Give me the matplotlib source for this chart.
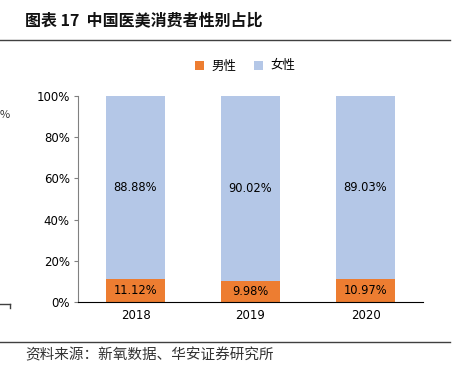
import matplotlib.pyplot as plt
from matplotlib.ticker import PercentFormatter

plt.rcParams['font.family'] = ['Noto Sans CJK SC', 'DejaVu Sans']

years = ['2018', '2019', '2020']
male = [11.12, 9.98, 10.97]
female = [88.88, 90.02, 89.03]

c_male = '#ED7D31'
c_female = '#B4C7E7'

fig = plt.figure(figsize=(4.55, 3.72), dpi=100)
W, H = 455, 372

# header / footer
fig.text(25 / W, 1 - 20 / H, '图表 17  中国医美消费者性别占比', fontsize=11.5,
         fontweight='bold', va='center', ha='left', color='#111111')
fig.add_artist(plt.Line2D([0, 450 / W], [1 - 40 / H] * 2, color='#404040', lw=1))
fig.add_artist(plt.Line2D([0, 450 / W], [1 - 342 / H] * 2, color='#404040', lw=1))
fig.text(25 / W, 1 - 355 / H, '资料来源：新氧数据、华安证券研究所', fontsize=10.5,
         va='center', ha='left', color='#333333')

# fragments of neighbouring chart at left edge
fig.text(0, 1 - 115 / H, '%', fontsize=8, va='center', ha='left', color='#333333')
fig.add_artist(plt.Line2D([0, 10 / W], [1 - 304 / H] * 2, color='#404040', lw=1))
fig.add_artist(plt.Line2D([10 / W, 10 / W], [1 - 304 / H, 1 - 308 / H], color='#404040', lw=1))

ax = fig.add_axes([78 / W, 1 - 302 / H, 345 / W, 206 / H])
x = range(len(years))
bw = 0.52
ax.bar(x, male, bw, color=c_male, label='男性')
ax.bar(x, female, bw, bottom=male, color=c_female, label='女性')

for i in x:
    ax.text(i, male[i] / 2, f'{male[i]:.2f}%', ha='center', va='center', fontsize=8.3,
            family='DejaVu Sans')
    ax.text(i, male[i] + female[i] / 2, f'{female[i]:.2f}%', ha='center', va='center',
            fontsize=8.3, family='DejaVu Sans')

ax.set_xlim(-0.5, 2.5)
ax.set_ylim(0, 100)
ax.set_yticks([0, 20, 40, 60, 80, 100])
ax.yaxis.set_major_formatter(PercentFormatter(decimals=0))
ax.set_xticks(list(x))
ax.set_xticklabels(years)
for lab in ax.get_xticklabels() + ax.get_yticklabels():
    lab.set_family('DejaVu Sans')
ax.tick_params(axis='y', labelsize=8.5, length=3, color='#808080', pad=3)
ax.tick_params(axis='x', labelsize=8.5, length=0, pad=5)
for s in ['top', 'right']:
    ax.spines[s].set_visible(False)
ax.spines['left'].set_color('#808080')
ax.spines['bottom'].set_color('#000000')
ax.spines['bottom'].set_linewidth(0.8)

ax.legend(loc='center', bbox_to_anchor=(245 / W, 1 - 66 / H), bbox_transform=fig.transFigure,
          ncol=2, frameon=False, fontsize=9, handlelength=0.7, handleheight=0.7,
          handletextpad=0.6, columnspacing=1.4)

fig.savefig('out.png', dpi=100)
